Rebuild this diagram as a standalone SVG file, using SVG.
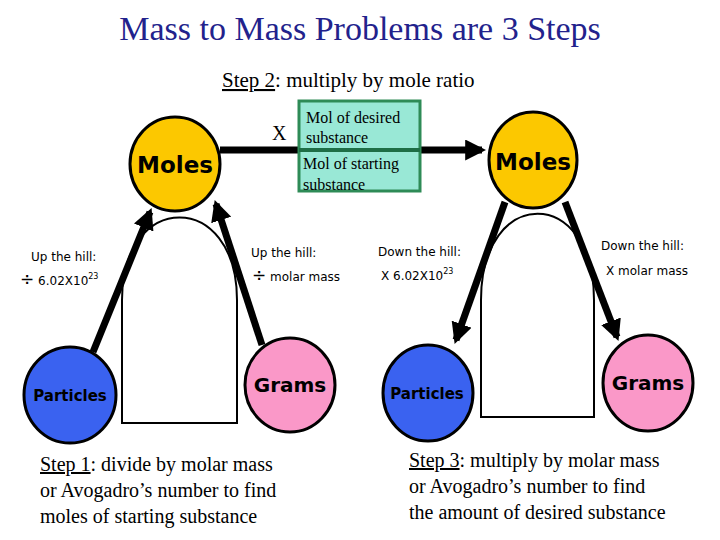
<svg xmlns="http://www.w3.org/2000/svg" width="720" height="540" viewBox="0 0 720 540">
<style>
.t{font-family:"Liberation Serif",serif;fill:#000}
.n{font-family:"DejaVu Sans",sans-serif;font-weight:bold;fill:#000}
.s{font-family:"DejaVu Sans",sans-serif;font-size:12px;fill:#000}
.c{stroke:#000;stroke-width:3}
.hill{fill:#fff;stroke:#000;stroke-width:2}
.a{stroke:#000;stroke-width:7;fill:none}
</style>
<defs><marker id="ah" viewBox="0 0 10 10" refX="8" refY="5" markerWidth="3" markerHeight="3" orient="auto"><path d="M0,0L10,5L0,10z" fill="#000"/></marker></defs>
<rect width="720" height="540" fill="#fff"/>
<text class="t" x="360" y="40" font-size="34" text-anchor="middle" fill="#1c1c8c" style="fill:#22228c">Mass to Mass Problems are 3 Steps</text>
<text class="t" x="222" y="87" font-size="21"><tspan text-decoration="underline">Step 2</tspan>: multiply by mole ratio</text>
<path class="hill" d="M122,423 V300 C122,190 237,190 237,300 V423 Z"/>
<path class="hill" d="M481,417 V300 C481,185 594,185 594,300 V417 Z"/>
<g id="connectors">
<line class="a" x1="220" y1="150" x2="482" y2="150" marker-end="url(#ah)"/>
<line class="a" x1="93" y1="352" x2="150" y2="212" marker-end="url(#ah)"/>
<line class="a" x1="262" y1="345" x2="216" y2="204" marker-end="url(#ah)"/>
<line class="a" x1="505" y1="202" x2="456" y2="340" marker-end="url(#ah)"/>
<line class="a" x1="565" y1="202" x2="617" y2="337" marker-end="url(#ah)"/>
</g>
<g id="ratio">
<rect x="299" y="101" width="121" height="90" fill="#99e8d6" stroke="#2e8b57" stroke-width="3"/>
<line x1="299" y1="150" x2="420" y2="150" stroke="#1e6e46" stroke-width="4"/>
<text class="t" x="306" y="123" font-size="16">Mol of desired</text>
<text class="t" x="306" y="143" font-size="16">substance</text>
<text class="t" x="303" y="169" font-size="16">Mol of starting</text>
<text class="t" x="303" y="190" font-size="16">substance</text>
<text class="t" x="272" y="140" font-size="20">X</text>
</g>
<g id="moles1"><ellipse class="c" cx="175" cy="164" rx="45" ry="47" fill="#fcc800"/><text class="n" x="175" y="173" font-size="23" text-anchor="middle">Moles</text></g>
<g id="moles2"><ellipse class="c" cx="533" cy="160" rx="44" ry="48" fill="#fcc800"/><text class="n" x="533" y="170" font-size="23" text-anchor="middle">Moles</text></g>
<g id="particles1"><ellipse class="c" cx="70" cy="395" rx="46" ry="48" fill="#3a62f0"/><text class="n" x="70" y="401" font-size="15" text-anchor="middle">Particles</text></g>
<g id="grams1"><ellipse class="c" cx="290" cy="385" rx="45" ry="47" fill="#fa98c8"/><text class="n" x="290" y="392" font-size="20" text-anchor="middle">Grams</text></g>
<g id="particles2"><ellipse class="c" cx="428" cy="393" rx="45" ry="48" fill="#3a62f0"/><text class="n" x="427" y="399" font-size="15" text-anchor="middle">Particles</text></g>
<g id="grams2"><ellipse class="c" cx="648" cy="383" rx="45" ry="48" fill="#fa98c8"/><text class="n" x="648" y="390" font-size="20" text-anchor="middle">Grams</text></g>
<text class="s" x="31" y="261">Up the hill:</text>
<text class="s" x="20" y="285"><tspan font-size="17">÷</tspan> 6.02X10<tspan font-size="8" dy="-6">23</tspan></text>
<text class="s" x="251" y="257">Up the hill:</text>
<text class="s" x="252" y="281"><tspan font-size="17">÷</tspan> molar mass</text>
<text class="s" x="378" y="256">Down the hill:</text>
<text class="s" x="381" y="280">X 6.02X10<tspan font-size="8" dy="-6">23</tspan></text>
<text class="s" x="601" y="250">Down the hill:</text>
<text class="s" x="606" y="275">X molar mass</text>
<text class="t" x="40" y="471" font-size="20"><tspan text-decoration="underline">Step 1</tspan>: divide by molar mass</text>
<text class="t" x="40" y="497" font-size="20">or Avogadro’s number to find</text>
<text class="t" x="40" y="523" font-size="20">moles of starting substance</text>
<text class="t" x="409" y="467" font-size="20"><tspan text-decoration="underline">Step 3</tspan>: multiply by molar mass</text>
<text class="t" x="409" y="493" font-size="20">or Avogadro’s number to find</text>
<text class="t" x="409" y="519" font-size="20">the amount of desired substance</text>
</svg>
